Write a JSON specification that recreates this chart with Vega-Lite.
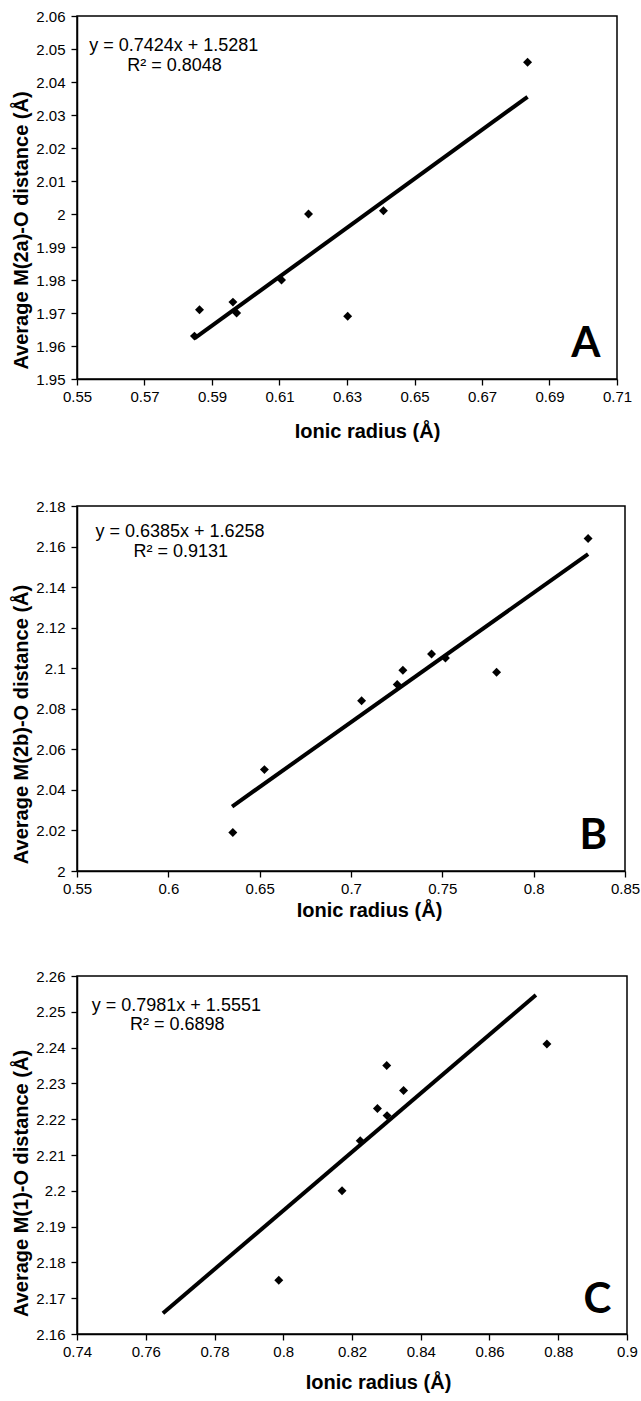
{
  "$schema": "https://vega.github.io/schema/vega-lite/v6.json",
  "background": "white",
  "padding": {"top": 8, "left": 11, "right": 5, "bottom": 5},
  "spacing": 47,
  "datasets": {
    "ptsA": [
      {"x": 0.5848, "y": 1.963},
      {"x": 0.5863, "y": 1.971},
      {"x": 0.5962, "y": 1.9733},
      {"x": 0.5973, "y": 1.970},
      {"x": 0.6106, "y": 1.980},
      {"x": 0.6186, "y": 2.000},
      {"x": 0.6302, "y": 1.969},
      {"x": 0.6408, "y": 2.001},
      {"x": 0.6835, "y": 2.046}
    ],
    "fitA": [
      {"x": 0.5848, "y": 1.9623},
      {"x": 0.6835, "y": 2.0355}
    ],
    "eqA": [
      {"x": 0.5536, "y": 2.0494, "label": "y = 0.7424x + 1.5281"},
      {"x": 0.5649, "y": 2.0434, "label": "R² = 0.8048"}
    ],
    "letA": [{"x": 0.7051, "y": 1.9567, "label": "A"}],
    "ptsB": [
      {"x": 0.6353, "y": 2.019},
      {"x": 0.6526, "y": 2.050},
      {"x": 0.7058, "y": 2.084},
      {"x": 0.7253, "y": 2.092},
      {"x": 0.7284, "y": 2.099},
      {"x": 0.7441, "y": 2.107},
      {"x": 0.7517, "y": 2.105},
      {"x": 0.7797, "y": 2.098},
      {"x": 0.8298, "y": 2.164}
    ],
    "fitB": [
      {"x": 0.6349, "y": 2.0318},
      {"x": 0.8298, "y": 2.1563}
    ],
    "eqB": [
      {"x": 0.5601, "y": 2.1645, "label": "y = 0.6385x + 1.6258"},
      {"x": 0.5809, "y": 2.155, "label": "R² = 0.9131"}
    ],
    "letB": [{"x": 0.8402, "y": 2.0107, "label": "B"}],
    "ptsC": [
      {"x": 0.7987, "y": 2.175},
      {"x": 0.8171, "y": 2.200},
      {"x": 0.8224, "y": 2.214},
      {"x": 0.8274, "y": 2.223},
      {"x": 0.8302, "y": 2.221},
      {"x": 0.8301, "y": 2.235},
      {"x": 0.835, "y": 2.228},
      {"x": 0.8767, "y": 2.241}
    ],
    "fitC": [
      {"x": 0.765, "y": 2.1658},
      {"x": 0.8735, "y": 2.2547}
    ],
    "eqC": [
      {"x": 0.7443, "y": 2.2502, "label": "y = 0.7981x + 1.5551"},
      {"x": 0.7554, "y": 2.2448, "label": "R² = 0.6898"}
    ],
    "letC": [{"x": 0.8954, "y": 2.1659, "label": "C"}]
  },
  "config": {
    "font": "Liberation Sans",
    "view": {"stroke": "black", "strokeWidth": 1.5},
    "axis": {
      "grid": false,
      "domainColor": "black",
      "domainWidth": 1.5,
      "tickColor": "black",
      "tickWidth": 1.3,
      "tickSize": 6,
      "labelColor": "black",
      "labelFont": "Liberation Sans",
      "labelFontSize": 15,
      "labelPadding": 4,
      "labelFlush": false,
      "labelOverlap": false,
      "titleFont": "Liberation Sans",
      "titleFontSize": 20,
      "titleFontWeight": "bold",
      "titleColor": "black",
      "format": "~g"
    },
    "axisY": {"labelPadding": 6, "titlePadding": 4}
  },
  "vconcat": [
    {
      "width": 540,
      "height": 363,
      "encoding": {
        "x": {"field": "x", "type": "quantitative",
          "scale": {"domain": [0.55, 0.71], "nice": false, "zero": false},
          "axis": {"title": ["Ionic radius (Å)", " "], "titleLineHeight": 9, "titlePadding": 17, "titleX": 290,
            "values": [0.55, 0.57, 0.59, 0.61, 0.63, 0.65, 0.67, 0.69, 0.71]}},
        "y": {"field": "y", "type": "quantitative",
          "scale": {"domain": [1.95, 2.06], "nice": false, "zero": false},
          "axis": {"title": "Average M(2a)-O distance (Å)", "titleY": 214,
            "values": [1.95, 1.96, 1.97, 1.98, 1.99, 2.0, 2.01, 2.02, 2.03, 2.04, 2.05, 2.06]}}
      },
      "layer": [
        {"data": {"name": "fitA"}, "mark": {"type": "line", "color": "black", "strokeWidth": 4}, "encoding": {}},
        {"data": {"name": "ptsA"}, "mark": {"type": "point", "shape": "diamond", "filled": true, "color": "black", "opacity": 1, "size": 80}},
        {"data": {"name": "eqA"}, "mark": {"type": "text", "align": "left", "baseline": "alphabetic", "fontSize": 18, "color": "black"}, "encoding": {"text": {"field": "label"}}},
        {"data": {"name": "letA"}, "mark": {"type": "text", "align": "right", "baseline": "alphabetic", "font": "Lato", "fontWeight": "bold", "fontSize": 42, "color": "black"}, "encoding": {"text": {"field": "label"}}}
      ]
    },
    {
      "width": 548,
      "height": 365,
      "encoding": {
        "x": {"field": "x", "type": "quantitative",
          "scale": {"domain": [0.55, 0.85], "nice": false, "zero": false},
          "axis": {"title": "Ionic radius (Å)", "titlePadding": 4, "titleX": 292,
            "values": [0.55, 0.6, 0.65, 0.7, 0.75, 0.8, 0.85]}},
        "y": {"field": "y", "type": "quantitative",
          "scale": {"domain": [2.0, 2.18], "nice": false, "zero": false},
          "axis": {"title": "Average M(2b)-O distance (Å)", "titleY": 218,
            "values": [2.0, 2.02, 2.04, 2.06, 2.08, 2.1, 2.12, 2.14, 2.16, 2.18]}}
      },
      "layer": [
        {"data": {"name": "fitB"}, "mark": {"type": "line", "color": "black", "strokeWidth": 4}, "encoding": {}},
        {"data": {"name": "ptsB"}, "mark": {"type": "point", "shape": "diamond", "filled": true, "color": "black", "opacity": 1, "size": 80}},
        {"data": {"name": "eqB"}, "mark": {"type": "text", "align": "left", "baseline": "alphabetic", "fontSize": 18, "color": "black"}, "encoding": {"text": {"field": "label"}}},
        {"data": {"name": "letB"}, "mark": {"type": "text", "align": "right", "baseline": "alphabetic", "font": "Lato", "fontWeight": "bold", "fontSize": 42, "color": "black"}, "encoding": {"text": {"field": "label"}}}
      ]
    },
    {
      "width": 550,
      "height": 358,
      "encoding": {
        "x": {"field": "x", "type": "quantitative",
          "scale": {"domain": [0.74, 0.9], "nice": false, "zero": false},
          "axis": {"title": "Ionic radius (Å)", "titlePadding": 13, "titleX": 301,
            "values": [0.74, 0.76, 0.78, 0.8, 0.82, 0.84, 0.86, 0.88, 0.9]}},
        "y": {"field": "y", "type": "quantitative",
          "scale": {"domain": [2.16, 2.26], "nice": false, "zero": false},
          "axis": {"title": "Average M(1)-O distance (Å)", "titleY": 207,
            "values": [2.16, 2.17, 2.18, 2.19, 2.2, 2.21, 2.22, 2.23, 2.24, 2.25, 2.26]}}
      },
      "layer": [
        {"data": {"name": "fitC"}, "mark": {"type": "line", "color": "black", "strokeWidth": 4}, "encoding": {}},
        {"data": {"name": "ptsC"}, "mark": {"type": "point", "shape": "diamond", "filled": true, "color": "black", "opacity": 1, "size": 80}},
        {"data": {"name": "eqC"}, "mark": {"type": "text", "align": "left", "baseline": "alphabetic", "fontSize": 18, "color": "black"}, "encoding": {"text": {"field": "label"}}},
        {"data": {"name": "letC"}, "mark": {"type": "text", "align": "right", "baseline": "alphabetic", "font": "Lato", "fontWeight": "bold", "fontSize": 42, "color": "black"}, "encoding": {"text": {"field": "label"}}}
      ]
    }
  ]
}
